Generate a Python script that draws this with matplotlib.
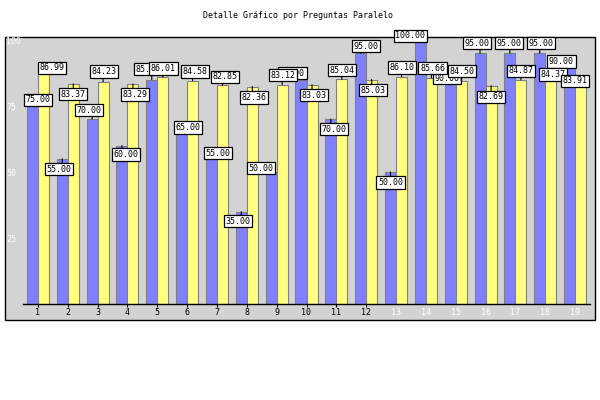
import numpy as np
import matplotlib
matplotlib.use('Agg')
import matplotlib.pyplot as plt
from matplotlib.patches import Rectangle

# datos
preguntas = [str(i) for i in range(1, 20)]
paralelo = [75, 55, 70, 60, 85, 65, 55, 35, 50, 85, 70, 95, 50, 100, 90, 95, 95, 95, 90]
promedio = [86.99, 83.37, 84.23, 83.29, 86.01, 84.58, 82.85, 82.36, 83.12, 83.03,
            85.04, 85.03, 86.10, 85.66, 84.50, 82.69, 84.87, 84.37, 83.91]

# desplazamiento de las etiquetas (pixeles, centro de la caja respecto a la punta de la barra)
lbl_dx_azul = [5.5, -3.4, -3.3, 4.3, -4, 6.4, 6.4, -3.5, -10.3, -8.5, 3, 5.6, 0, -10, -3.4, -3, -1, 1, -8.2]
lbl_dy_azul = [6.3, -10.4, 9, -8.9, 10.3, 4.9, 5.5, -9.7, 3.8, 6.6, -10, 6.9, -10.5, 4, -11.9, 9.9, 9.9, 9.9, 4.9]
lbl_dx_amar = [8.3, 0, 0.7, 2.2, 0.6, 2.4, 2.3, 1.5, 0.6, 1.8, 0, 1.4, 0.5, 1.2, 1, 0, 0, 2, -5.8]
lbl_dy_amar = [6.6, -10.3, 10.1, -10.4, 8.6, 9.2, 8.6, -10.9, 9.4, -10.2, 9.3, -10.7, 9.2, 9.7, 9.7, -11.1, 9.1, 6.7, 1.7]

AZUL = '#8080ff'
AMARILLO = '#ffff80'
GRIS = '#d3d3d3'
MONO = 'DejaVu Sans Mono'

fig = plt.figure(figsize=(6, 4), dpi=100, facecolor='white')
fig.patches.append(Rectangle((5 / 600, 80 / 400), 590 / 600, 283 / 400, transform=fig.transFigure,
                             facecolor=GRIS, edgecolor='black', lw=1, zorder=-10))
fig.text(0.497, 1 - 16 / 400, 'Detalle Gráfico por Preguntas Paralelo', ha='center', va='center',
         fontsize=6, family=MONO)

ax = fig.add_axes([23 / 600, 0.24, 567 / 600, 0.66])
ax.set_zorder(1)
ax.set_facecolor(GRIS)
x = np.arange(1, len(preguntas) + 1)
w = 0.37
ax.bar(x - w / 2, paralelo, width=w, color=AZUL, edgecolor='#808080', lw=0.8, zorder=2)
ax.bar(x + w / 2, promedio, width=w, color=AMARILLO, edgecolor='#808080', lw=0.8, zorder=2)
ax.set_xlim(0.5, len(preguntas) + 0.5)
ax.set_ylim(0, 100)

for s in ['top', 'right', 'left']:
    ax.spines[s].set_visible(False)
ax.spines['bottom'].set_linewidth(1)

ax.set_xticks(x)
ax.set_xticklabels(preguntas, fontsize=6, family=MONO)
ax.tick_params(axis='x', direction='inout', length=4, width=0.8, pad=1)
for i, t in enumerate(ax.xaxis.get_major_ticks()):
    if i >= 12:
        t.tick1line.set_visible(False)
        t.label1.set_color('white')

ax.set_yticks([25, 50, 75, 100])
ax.set_yticklabels(['25', '50', '75', '100'], fontsize=6, family=MONO, color='white')
ax.tick_params(axis='y', length=0, pad=12.2)
for lbl in ax.get_yticklabels():
    lbl.set_ha('left')

H = 11.5


def etiquetas(xs, vals, dxs, dys, z):
    for xc, v, dx, dy in zip(xs, vals, dxs, dys):
        edge = dy - np.sign(dy) * H / 2
        if edge * np.sign(dy) > 0:
            ax.annotate('', xy=(xc, v), xytext=(0, edge), textcoords='offset pixels',
                        arrowprops=dict(arrowstyle='-', color='black', lw=0.8, shrinkA=0, shrinkB=0),
                        annotation_clip=False, zorder=z - 0.5)
        ax.annotate(f'{v:.2f}', xy=(xc, v), xytext=(dx, dy), textcoords='offset pixels',
                    ha='center', va='center', fontsize=6, family=MONO, zorder=z,
                    annotation_clip=False,
                    bbox=dict(boxstyle='square,pad=0.2', facecolor='white', edgecolor='black', lw=0.9))


etiquetas(x - w / 2, paralelo, lbl_dx_azul, lbl_dy_azul, 4)
etiquetas(x + w / 2, promedio, lbl_dx_amar, lbl_dy_amar, 6)

plt.savefig('out.png', dpi=100)
plt.close()
